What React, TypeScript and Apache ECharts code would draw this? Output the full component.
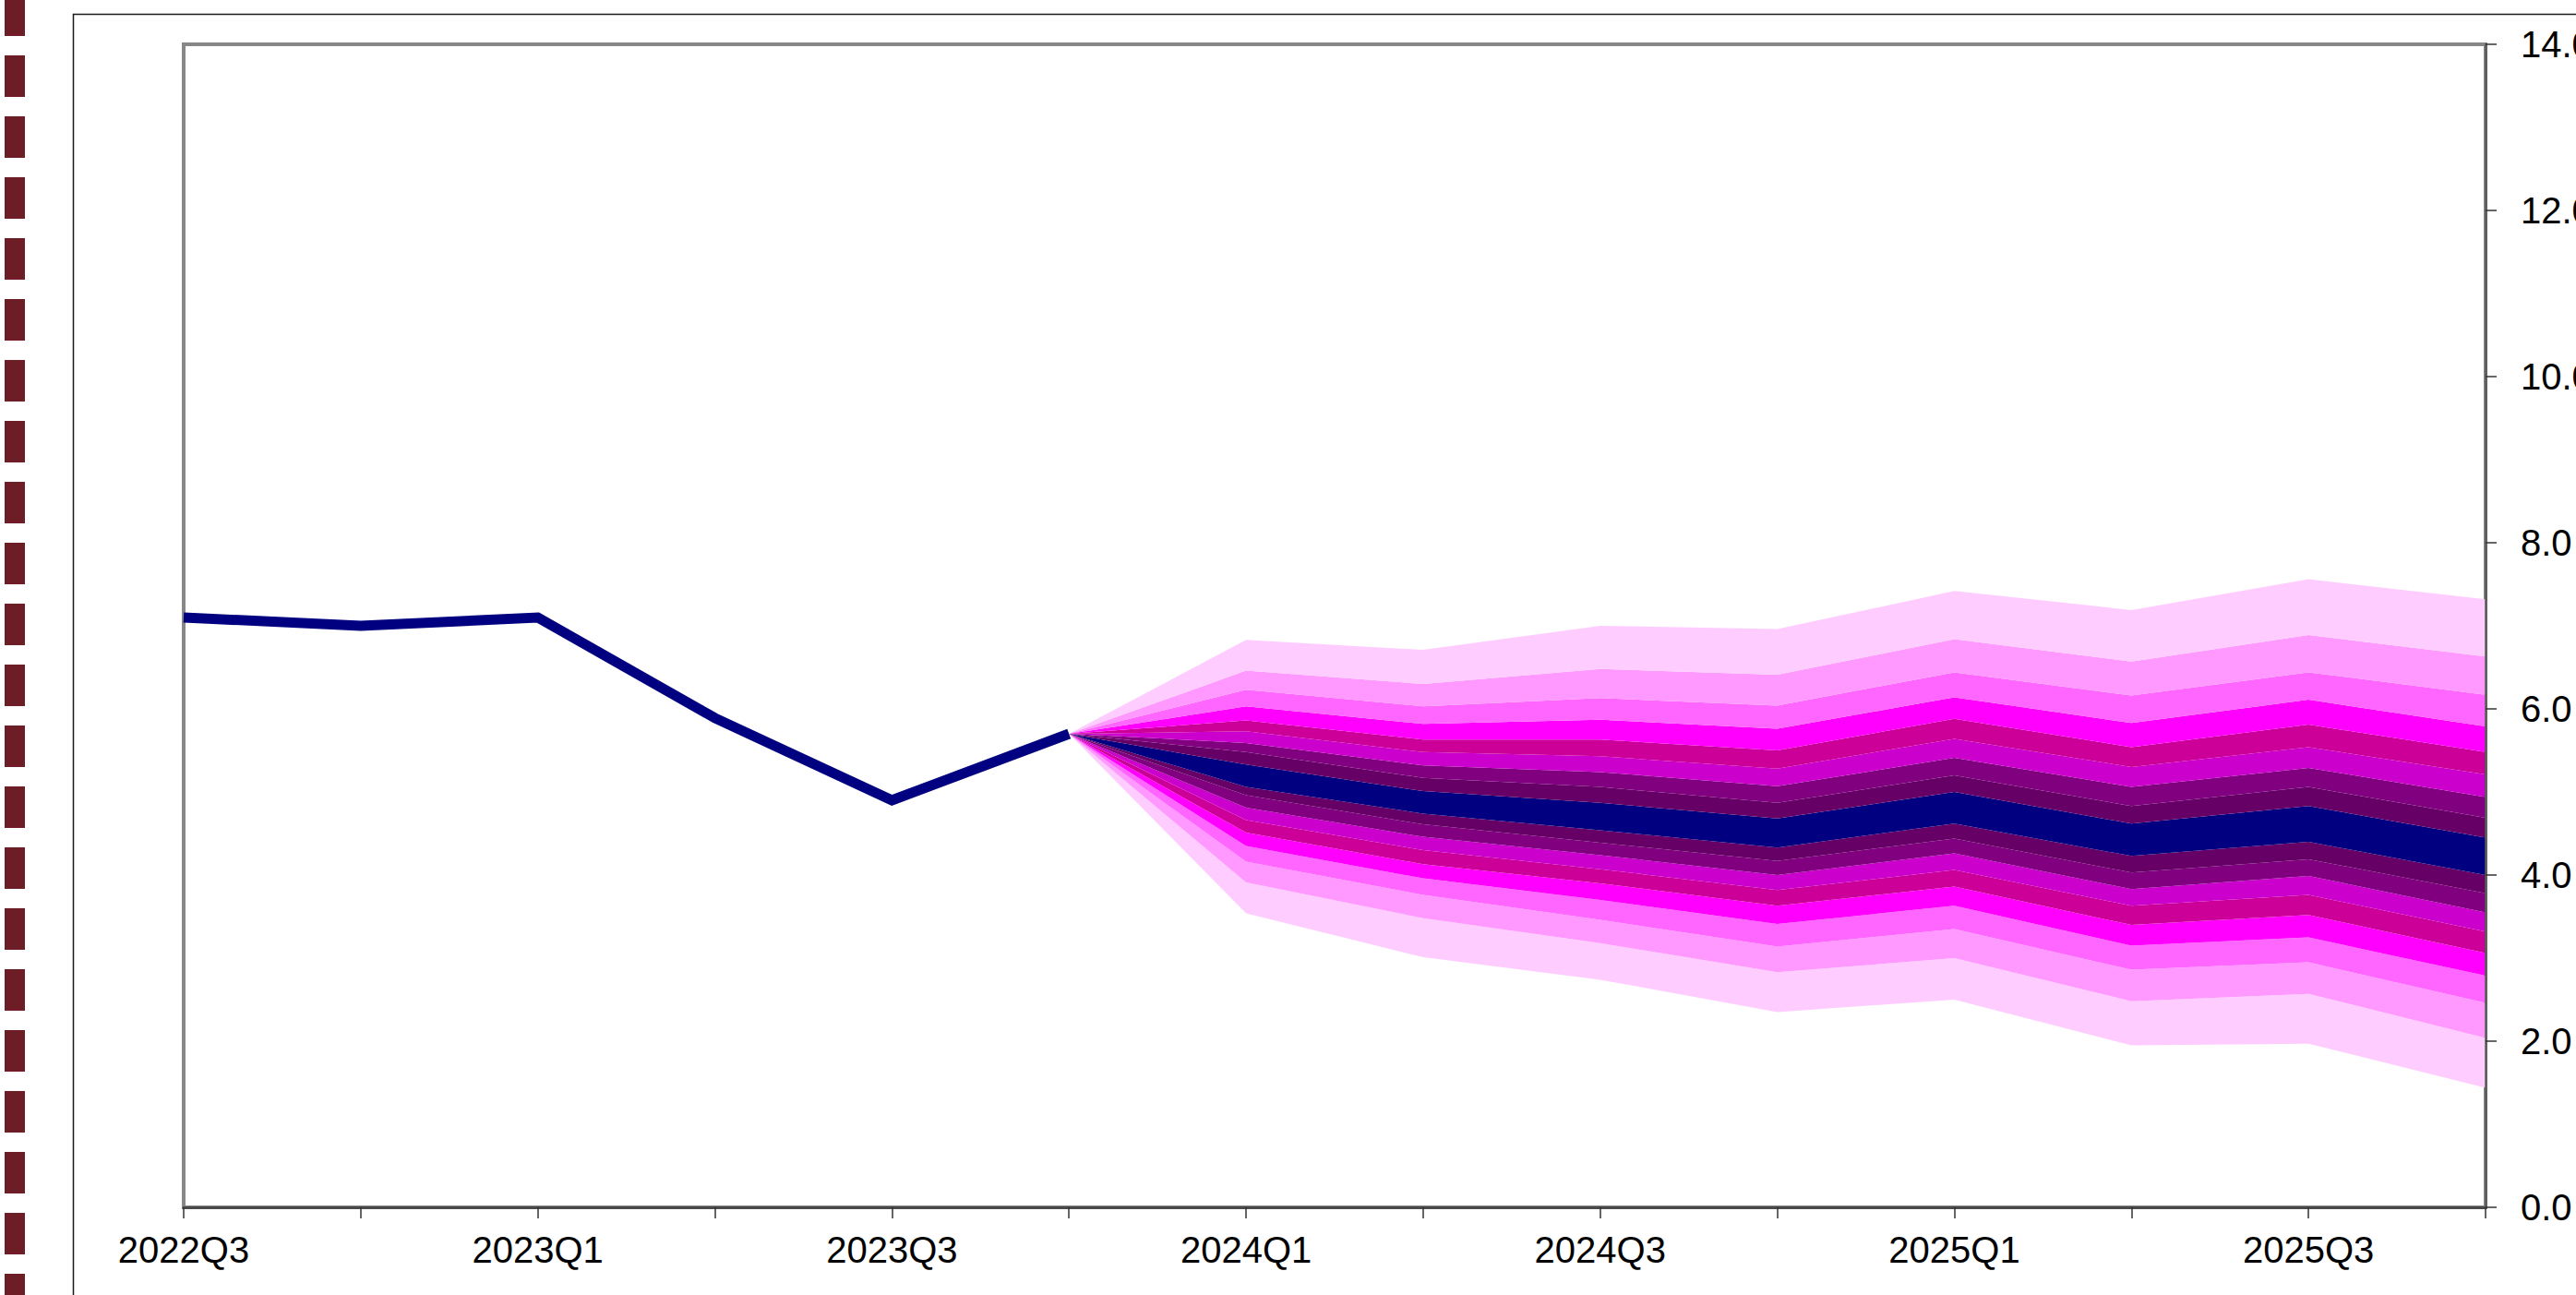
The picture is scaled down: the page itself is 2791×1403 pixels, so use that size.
import React, { useEffect, useRef } from 'react';
import * as echarts from 'echarts';

const quarters = [
  '2022Q3', '2022Q4', '2023Q1', '2023Q2', '2023Q3', '2023Q4', '2024Q1',
  '2024Q2', '2024Q3', '2024Q4', '2025Q1', '2025Q2', '2025Q3', '2025Q4',
];

// outturn up to the start of the projection
const outturn = [7.10, 7.00, 7.10, 5.89, 4.90, 5.70];

// fan boundaries for each projected quarter, top edge to bottom edge (18 edges, 17 bands)
const fan2023Q4 = [5.70, 5.70, 5.70, 5.70, 5.70, 5.70, 5.70, 5.70, 5.70, 5.70, 5.70, 5.70, 5.70, 5.70, 5.70, 5.70, 5.70, 5.70];
const fan2024Q1 = [6.83, 6.46, 6.23, 6.03, 5.86, 5.73, 5.59, 5.48, 5.33, 5.06, 4.96, 4.81, 4.66, 4.51, 4.35, 4.16, 3.91, 3.54];
const fan2024Q2 = [6.71, 6.30, 6.03, 5.82, 5.63, 5.48, 5.32, 5.17, 5.01, 4.74, 4.61, 4.46, 4.30, 4.13, 3.96, 3.76, 3.48, 3.01];
const fan2024Q3 = [7.00, 6.48, 6.13, 5.87, 5.63, 5.43, 5.24, 5.06, 4.87, 4.54, 4.39, 4.24, 4.07, 3.90, 3.70, 3.46, 3.18, 2.74];
const fan2024Q4 = [6.96, 6.41, 6.04, 5.76, 5.50, 5.28, 5.07, 4.87, 4.68, 4.33, 4.17, 4.00, 3.82, 3.63, 3.41, 3.14, 2.83, 2.35];
const fan2025Q1 = [7.42, 6.84, 6.44, 6.14, 5.88, 5.64, 5.41, 5.20, 5.00, 4.62, 4.44, 4.26, 4.06, 3.86, 3.63, 3.35, 3.00, 2.50];
const fan2025Q2 = [7.19, 6.57, 6.16, 5.83, 5.54, 5.30, 5.06, 4.83, 4.62, 4.23, 4.03, 3.83, 3.63, 3.40, 3.15, 2.86, 2.48, 1.95];
const fan2025Q3 = [7.56, 6.89, 6.44, 6.11, 5.81, 5.54, 5.29, 5.06, 4.83, 4.40, 4.19, 3.99, 3.76, 3.52, 3.25, 2.95, 2.57, 1.97];
const fan2025Q4 = [7.32, 6.63, 6.17, 5.79, 5.48, 5.21, 4.94, 4.69, 4.45, 4.00, 3.78, 3.55, 3.32, 3.06, 2.79, 2.46, 2.04, 1.44];

const fanColumns = [fan2023Q4, fan2024Q1, fan2024Q2, fan2024Q3, fan2024Q4, fan2025Q1, fan2025Q2, fan2025Q3, fan2025Q4];

// band colours, top to bottom
const bandColours = [
  '#FFCCFF', '#FF99FF', '#FF66FF', '#FF00FF', '#CC0099', '#CC00CC', '#800080', '#660066',
  '#000080',
  '#660066', '#800080', '#CC00CC', '#CC0099', '#FF00FF', '#FF66FF', '#FF99FF', '#FFCCFF',
];

const W = 2791;
const H = 1403;
const FONT = '"Liberation Sans", Arial, sans-serif';

const fanStart = quarters.indexOf('2023Q4');
const edge = (b: number) =>
  quarters.map((_, i) => (i < fanStart ? '-' : fanColumns[i - fanStart][b]));

const buildSeries = () => {
  const last = bandColours.length; // bottom edge index
  const series: any[] = [];
  series.push({
    type: 'line',
    name: 'base',
    stack: 'fan',
    stackStrategy: 'all',
    symbol: 'none',
    silent: true,
    lineStyle: { width: 0, opacity: 0 },
    data: edge(last),
    z: 2,
  });
  for (let k = last - 1; k >= 0; k--) {
    const top = edge(k);
    const bottom = edge(k + 1);
    series.push({
      type: 'line',
      name: 'band' + k,
      stack: 'fan',
      stackStrategy: 'all',
      symbol: 'none',
      silent: true,
      lineStyle: { width: 0, opacity: 0 },
      areaStyle: { color: bandColours[k], opacity: 1 },
      data: top.map((v, i) => (v === '-' ? '-' : +((v as number) - (bottom[i] as number)).toFixed(3))),
      z: 2,
    });
  }
  series.push({
    type: 'line',
    name: 'outturn',
    symbol: 'none',
    silent: true,
    lineStyle: { color: '#000080', width: 11, join: 'miter' },
    data: quarters.map((_, i) => (i < outturn.length ? outturn[i] : '-')),
    z: 5,
  });
  return series;
};

export default function App() {
  const ref = useRef<HTMLDivElement>(null);

  useEffect(() => {
    const chart = echarts.init(ref.current, null, { renderer: 'svg' });
    chart.setOption({
      animation: false,
      backgroundColor: '#ffffff',
      grid: {
        left: 199,
        top: 48,
        width: 2494,
        height: 1260,
        containLabel: false,
        outerBoundsMode: 'none',
        show: true,
        borderColor: '#878787',
        borderWidth: 4,
        backgroundColor: 'transparent',
      },
      xAxis: {
        type: 'category',
        data: quarters,
        boundaryGap: false,
        z: 10,
        axisLine: { show: true, onZero: false, lineStyle: { color: '#4a4a4a', width: 3 } },
        axisTick: { show: true, interval: 0, inside: false, length: 12, lineStyle: { color: '#333', width: 1.5 } },
        axisLabel: {
          interval: 1,
          margin: 26,
          color: '#000',
          fontSize: 40,
          fontFamily: FONT,
          hideOverlap: false,
        },
        splitLine: { show: false },
      },
      yAxis: {
        type: 'value',
        position: 'right',
        min: 0,
        max: 14,
        interval: 2,
        z: 10,
        axisLine: { show: true, lineStyle: { color: '#5a5a5a', width: 2.5 } },
        axisTick: { show: true, inside: false, length: 12, lineStyle: { color: '#333', width: 1.5 } },
        axisLabel: {
          margin: 38,
          color: '#000',
          fontSize: 40,
          fontFamily: FONT,
          formatter: (v: number) => v.toFixed(1),
        },
        splitLine: { show: false },
      },
      graphic: [
        {
          type: 'line',
          silent: true,
          shape: { x1: 16, y1: -6, x2: 16, y2: H + 20 },
          style: { stroke: '#6C1D26', lineWidth: 22, lineDash: [45, 21] },
        },
        {
          type: 'rect',
          silent: true,
          shape: { x: 79.5, y: 15.5, width: W, height: H },
          style: { fill: 'none', stroke: '#1a1a1a', lineWidth: 1.5 },
        },
      ],
      series: buildSeries(),
    });
    return () => chart.dispose();
  }, []);

  return (
    <div
      ref={ref}
      style={{ position: 'fixed', left: 0, top: 0, width: W, height: H, background: '#fff' }}
    />
  );
}
